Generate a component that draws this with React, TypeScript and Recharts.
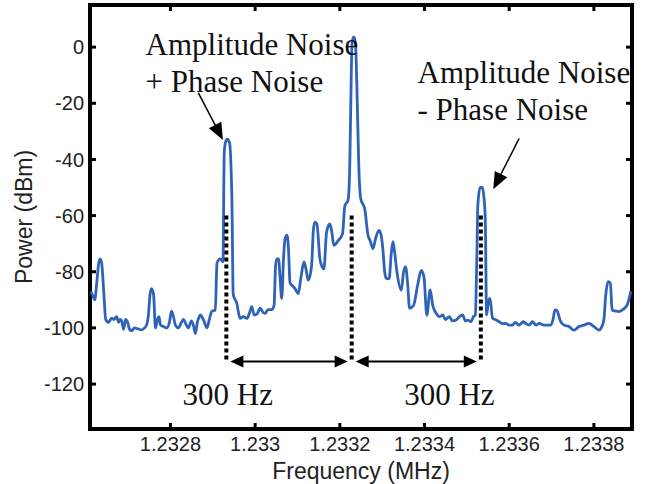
import { LineChart, Line, XAxis, YAxis, ReferenceLine, ReferenceDot, ReferenceArea } from "recharts";

// spectrum trace (frequency in MHz, power in dBm)
const freqMHz = [
  1.2326118, 1.2326165, 1.2326212, 1.2326259, 1.2326306, 1.2326341, 1.2326376, 1.2326424, 1.2326471, 1.2326541,
  1.2326612, 1.2326659, 1.2326729, 1.2326776, 1.2326812, 1.2326847, 1.2326894, 1.2326941, 1.2326988, 1.2327035,
  1.2327082, 1.2327153, 1.2327224, 1.2327318, 1.2327388, 1.2327435, 1.2327482, 1.2327518, 1.2327553, 1.23276,
  1.2327647, 1.2327694, 1.2327729, 1.2327765, 1.2327835, 1.2327906, 1.2327976, 1.2328024, 1.2328071, 1.2328118,
  1.2328188, 1.2328259, 1.2328306, 1.2328376, 1.2328424, 1.2328494, 1.2328541, 1.2328588, 1.2328635, 1.2328682,
  1.2328706, 1.2328776, 1.2328864, 1.2328918, 1.2328981, 1.2329059, 1.2329099, 1.2329129, 1.2329176, 1.232924,
  1.2329271, 1.2329306, 1.2329341, 1.2329395, 1.2329424, 1.2329452, 1.2329482, 1.2329529, 1.2329569, 1.23296,
  1.2329647, 1.2329718, 1.2329805, 1.2329859, 1.2329922, 1.2329976, 1.2330047, 1.2330118, 1.2330188, 1.2330235,
  1.2330306, 1.2330393, 1.2330447, 1.2330482, 1.2330511, 1.2330553, 1.2330588, 1.2330628, 1.2330671, 1.2330706,
  1.2330753, 1.2330788, 1.2330824, 1.2330882, 1.2330941, 1.2331019, 1.2331082, 1.2331153, 1.23312, 1.2331254,
  1.2331334, 1.2331376, 1.2331412, 1.2331459, 1.2331529, 1.2331576, 1.2331624, 1.2331687, 1.2331765, 1.2331812,
  1.2331859, 1.233196, 1.2332064, 1.2332118, 1.2332195, 1.2332235, 1.2332259, 1.2332289, 1.2332329, 1.2332369,
  1.2332412, 1.2332447, 1.2332494, 1.2332588, 1.2332666, 1.2332718, 1.2332784, 1.2332847, 1.2332925, 1.2332976,
  1.2333019, 1.2333059, 1.2333099, 1.2333165, 1.2333212, 1.2333254, 1.2333294, 1.2333348, 1.2333452, 1.2333506,
  1.2333553, 1.23336, 1.2333647, 1.2333741, 1.2333835, 1.2333922, 1.2333988, 1.2334054, 1.2334134, 1.2334195,
  1.2334275, 1.2334353, 1.2334431, 1.2334494, 1.2334588, 1.2334659, 1.2334746, 1.2334824, 1.2334901, 1.2334965,
  1.2335019, 1.2335099, 1.2335153, 1.23352, 1.2335235, 1.2335259, 1.2335311, 1.2335365, 1.23354, 1.2335435,
  1.2335466, 1.2335506, 1.2335546, 1.2335607, 1.2335671, 1.2335765, 1.2335835, 1.2335922, 1.2336, 1.2336078,
  1.2336141, 1.2336235, 1.2336329, 1.23364, 1.2336471, 1.2336548, 1.2336635, 1.2336706, 1.2336824, 1.2336981,
  1.2337035, 1.2337082, 1.2337129, 1.2337176, 1.2337216, 1.2337294, 1.2337412, 1.2337529, 1.2337647, 1.2337765,
  1.2337882, 1.2338, 1.2338118, 1.2338188, 1.2338235, 1.2338282, 1.2338336, 1.2338388, 1.2338431, 1.2338518,
  1.2338588, 1.2338682, 1.2338784, 1.2338871,
];

const powerDbm = [
  -87, -88.5, -90, -84, -77, -75.5, -77, -87, -97, -98,
  -96.5, -97, -96, -98, -97, -97.5, -100.5, -97, -98, -100.5,
  -101, -100, -100.3, -100.7, -100, -99, -95, -88, -86, -88,
  -100, -97, -96, -99, -99.5, -100, -98, -94, -96, -99,
  -100, -98, -97, -99, -100, -97.5, -99, -102, -98, -96,
  -95.4, -97, -100, -97, -94, -93.7, -77, -76, -75.4, -76.5,
  -37.4, -33.5, -32.8, -34, -40, -55, -88, -90, -91.3, -94,
  -96.6, -96, -96.6, -95, -92.4, -95.4, -95, -93, -94.5, -94.8,
  -93.5, -93.5, -92, -78, -75.4, -75.4, -82, -89.5, -75, -68.3,
  -67, -72, -84, -85, -86, -87.8, -82, -76.5, -79, -83,
  -77.7, -65, -62.3, -63, -75.4, -78, -79, -65.9, -63, -66,
  -70.6, -68.9, -66.5, -56.5, -54.5, -42, -20, 1.5, 3.6, 1.5,
  -20, -42, -54, -57.6, -67, -69, -71.8, -68, -65.3, -67,
  -72.4, -80, -82.4, -82.5, -74, -69.3, -73, -80, -86.5, -80,
  -78.3, -84, -93, -92, -85, -79.5, -82, -95.5, -86.5, -92,
  -94.8, -96, -95.4, -97, -96, -97.5, -97.2, -96, -95.4, -97.5,
  -97.2, -97.8, -96, -95.4, -75, -56.5, -50, -50, -53, -61.2,
  -95.4, -91, -89.5, -96.6, -97, -97.8, -98.5, -98.4, -99, -99,
  -98, -99, -97.8, -98.5, -99, -97.8, -99, -98.4, -99, -99,
  -97, -93.6, -93.8, -96, -97.8, -99, -99.5, -100.8, -99.5, -99,
  -98.4, -99.5, -100.8, -99.5, -97.2, -88, -83.5, -84, -93.6, -94,
  -94.2, -93.5, -91.9, -87,
];

const xTicks = [1.2328, 1.233, 1.2332, 1.2334, 1.2336, 1.2338];
const yTicks = [-120, -100, -80, -60, -40, -20, 0];
const xDomain = [1.23261, 1.23389];
const yDomain = [-136, 15];

// left sideband, carrier, right sideband
const markerFreqs = [1.232932, 1.233228, 1.233533];
const markerTop = -60;
const markerBottom = -112;
const spanLabelFreqs = [1.2329353, 1.2334588];
const spanLabel = "300 Hz";

const noteLines = [
  ["Amplitude Noise", "+ Phase Noise"],
  ["Amplitude Noise", "- Phase Noise"],
];
const noteAnchors = [
  { f: 1.2327412, p: -2.8 },
  { f: 1.2333835, p: -12.9 },
];
const noteArrows = [
  { f1: 1.2328659, p1: -16.3, f2: 1.232924, p2: -33.1 },
  { f1: 1.2336235, p1: -32.5, f2: 1.2335624, p2: -50.6 },
];

const data = freqMHz.map((f, i) => ({ f, p: powerDbm[i] }));

const sans = "'Liberation Sans', Arial, sans-serif";
const serif = "'Liberation Serif', 'Times New Roman', serif";
const tickFont = { fontFamily: sans, fontSize: 20, fill: "#222" };
const TICK = 6;

function BottomTick({ x, y, payload }: any) {
  return (
    <text x={x} y={y} dy="0.72em" textAnchor="middle" {...tickFont}>
      {String(payload.value)}
    </text>
  );
}

function LeftTick({ x, y, payload }: any) {
  return (
    <text x={x} y={y} dy="0.36em" textAnchor="end" {...tickFont}>
      {String(payload.value)}
    </text>
  );
}

// inward tick marks at both ends of a full-height / full-width reference line
function TickPair(props: any) {
  const { x1, y1, x2, y2 } = props;
  if (x1 === x2) {
    const top = Math.min(y1, y2);
    const bot = Math.max(y1, y2);
    return (
      <g>
        <line x1={x1} x2={x1} y1={top} y2={top + TICK} stroke="#000" strokeWidth={3} />
        <line x1={x1} x2={x1} y1={bot} y2={bot - TICK} stroke="#000" strokeWidth={3} />
      </g>
    );
  }
  const l = Math.min(x1, x2);
  const r = Math.max(x1, x2);
  return (
    <g>
      <line x1={l} x2={l + TICK} y1={y1} y2={y1} stroke="#000" strokeWidth={3} />
      <line x1={r} x2={r - TICK} y1={y1} y2={y1} stroke="#000" strokeWidth={3} />
    </g>
  );
}

function Frame(props: any) {
  const { x, y, width, height } = props;
  return <rect x={x} y={y} width={width} height={height} fill="none" stroke="#000" strokeWidth={4} />;
}

function head(tx: number, ty: number, fx: number, fy: number, len: number, half: number) {
  const dx = tx - fx;
  const dy = ty - fy;
  const d = Math.hypot(dx, dy) || 1;
  const ux = dx / d;
  const uy = dy / d;
  const bx = tx - ux * len;
  const by = ty - uy * len;
  return `${tx},${ty} ${bx - uy * half},${by + ux * half} ${bx + uy * half},${by - ux * half}`;
}

function NoteArrow(props: any) {
  const { x1, y1, x2, y2 } = props;
  const d = Math.hypot(x2 - x1, y2 - y1);
  const k = (d - 14) / d;
  return (
    <g>
      <line x1={x1} y1={y1} x2={x1 + (x2 - x1) * k} y2={y1 + (y2 - y1) * k} stroke="#000" strokeWidth={1.5} />
      <polygon points={head(x2, y2, x1, y1, 17, 7)} fill="#000" />
    </g>
  );
}

function SpanArrow(props: any) {
  const { x1, y1, x2, y2 } = props;
  const a = x1 + 4;
  const b = x2 - 4;
  return (
    <g>
      <line x1={a + 10} y1={y1} x2={b - 10} y2={y2} stroke="#000" strokeWidth={2} />
      <polygon points={head(a, y1, b, y2, 13, 6)} fill="#000" />
      <polygon points={head(b, y2, a, y1, 13, 6)} fill="#000" />
    </g>
  );
}

export default function App() {
  return (
    <div style={{ position: "absolute", left: 0, top: 0, background: "#fff" }}>
      <LineChart width={654} height={484} data={data} margin={{ top: 5, right: 22, bottom: 0, left: 0 }}>
        <XAxis
          dataKey="f"
          type="number"
          domain={xDomain}
          ticks={xTicks}
          allowDataOverflow
          height={55}
          tickSize={0}
          tickMargin={8}
          tick={<BottomTick />}
          axisLine={false}
          tickLine={false}
          label={{ value: "Frequency (MHz)", position: "insideBottom", offset: 5, fontSize: 23, fill: "#222", fontFamily: sans }}
        />
        <YAxis
          type="number"
          domain={yDomain}
          ticks={yTicks}
          allowDataOverflow
          width={90}
          tickSize={0}
          tickMargin={6}
          tick={<LeftTick />}
          axisLine={false}
          tickLine={false}
          label={{ value: "Power (dBm)", angle: -90, position: "insideLeft", offset: 24, fontSize: 23, fill: "#222", fontFamily: sans, style: { textAnchor: "middle" } }}
        />
        <Line
          type="monotone"
          dataKey="p"
          stroke="#2e63b8"
          strokeWidth={2.8}
          dot={false}
          isAnimationActive={false}
        />
        {xTicks.map((t) => (
          <ReferenceLine key={`xt${t}`} x={t} shape={(p: any) => <TickPair {...p} />} />
        ))}
        {yTicks.map((t) => (
          <ReferenceLine key={`yt${t}`} y={t} shape={(p: any) => <TickPair {...p} />} />
        ))}
        <ReferenceArea
          x1={xDomain[0]}
          x2={xDomain[1]}
          y1={yDomain[0]}
          y2={yDomain[1]}
          shape={(p: any) => <Frame {...p} />}
        />
        {markerFreqs.map((f) => (
          <ReferenceLine
            key={`m${f}`}
            segment={[{ x: f, y: markerTop }, { x: f, y: markerBottom }]}
            stroke="#000"
            strokeWidth={4}
            strokeDasharray="4 3"
          />
        ))}
        {markerFreqs.slice(1).map((f, i) => (
          <ReferenceLine
            key={`s${f}`}
            segment={[{ x: markerFreqs[i], y: markerBottom }, { x: f, y: markerBottom }]}
            shape={(p: any) => <SpanArrow {...p} />}
          />
        ))}
        {spanLabelFreqs.map((f) => (
          <ReferenceDot
            key={`l${f}`}
            x={f}
            y={-127.5}
            r={0}
            shape={(p: any) => (
              <text x={p.cx} y={p.cy} textAnchor="middle" fontFamily={serif} fontSize={31} fill="#111">
                {spanLabel}
              </text>
            )}
          />
        ))}
        {noteAnchors.map((a, i) => (
          <ReferenceDot
            key={`n${i}`}
            x={a.f}
            y={a.p}
            r={0}
            shape={(p: any) => (
              <text x={p.cx} y={p.cy} fontFamily={serif} fontSize={31} fill="#111">
                <tspan x={p.cx}>{noteLines[i][0]}</tspan>
                <tspan x={p.cx} dy={37}>{noteLines[i][1]}</tspan>
              </text>
            )}
          />
        ))}
        {noteArrows.map((a, i) => (
          <ReferenceLine
            key={`a${i}`}
            segment={[{ x: a.f1, y: a.p1 }, { x: a.f2, y: a.p2 }]}
            shape={(p: any) => <NoteArrow {...p} />}
          />
        ))}
      </LineChart>
    </div>
  );
}
